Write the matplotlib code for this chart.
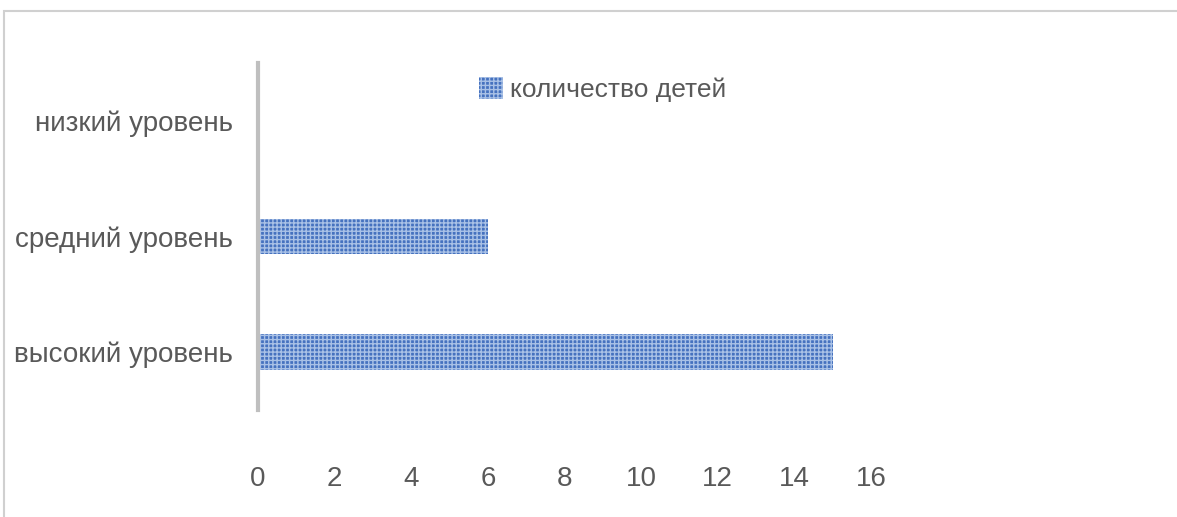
import matplotlib.pyplot as plt
import matplotlib.patches as mpatches
import numpy as np

categories = ['высокий уровень', 'средний уровень', 'низкий уровень']
values = [15, 6, 0]
series_name = 'количество детей'

plt.rcParams['font.family'] = ['Liberation Sans', 'DejaVu Sans']
plt.rcParams['hatch.color'] = '#a9c1e6'
plt.rcParams['hatch.linewidth'] = 1.0

fig = plt.figure(figsize=(11.77, 5.17), dpi=100)
ax = fig.add_axes([0.2192, 0.207, 0.5208, 0.671])

# outer chart border
fig.patches.append(mpatches.Rectangle((0.0034, -0.01), 1.0, 0.989, transform=fig.transFigure,
                                      fill=False, edgecolor='#d0d0d0', linewidth=1.5))

y = np.arange(len(categories))
ax.barh(y, values, height=0.31, color='#4672bf', hatch='++++', edgecolor='#a9c1e6',
        linewidth=0, label=series_name)

ax.set_xlim(0, 16)
ax.set_ylim(-0.5, 2.5)
ax.set_xticks(np.arange(0, 17, 2))
ax.set_yticks(y, categories)

for s in ['top', 'right', 'bottom']:
    ax.spines[s].set_visible(False)
ax.spines['left'].set_color('#bfbfbf')
ax.spines['left'].set_linewidth(3)

ax.tick_params(axis='x', length=0, pad=40, labelsize=20, labelcolor='#595959')
ax.tick_params(axis='y', length=0, pad=18, labelsize=20, labelcolor='#595959')

fig.legend(loc='center', bbox_to_anchor=(0.512, 0.826), frameon=False,
           fontsize=19, labelcolor='#595959', handlelength=0.9, handleheight=0.9,
           handletextpad=0.25)

plt.savefig('out.png', dpi=100)
